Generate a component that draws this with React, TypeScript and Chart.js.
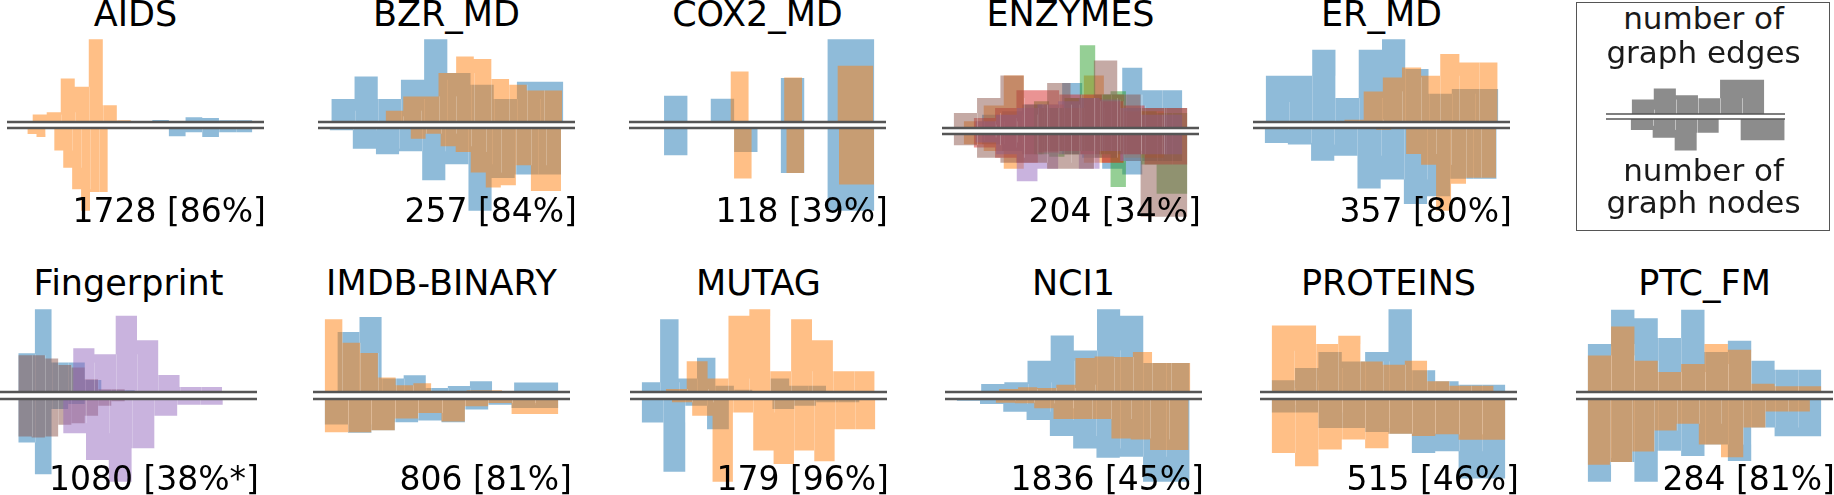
import React, { useEffect, useRef } from "react";
import { Chart, registerables } from "chart.js";

Chart.register(...registerables);

// ---------------- data ----------------
// Each histogram: bins = [first bin edge, bin width], counts = bar heights.
// Top halves = number of graph edges, bottom halves = number of graph nodes.

// AIDS
const aidsEdgesBlueBins = [455, 50];
const aidsEdgesBlue = [4, 6, 3, 14, 12, 5];
const aidsEdgesOrangeBins = [55, 42];
const aidsEdgesOrange = [5, 0, 22, 29, 130, 105, 247, 50, 5, 0];
const aidsNodesBlueBins = [455, 50];
const aidsNodesBlue = [8, 3, 25, 13, 27, 13];
const aidsNodesOrangeBins = [55, 26.7];
const aidsNodesOrange = [8, 0, 18, 27, 0, 68, 120, 185, 250, 193];

// BZR_MD
const bzrEdgesBlueBins = [80, 69.7];
const bzrEdgesBlue = [34, 69, 137, 69, 127, 249, 147, 112, 69, 121];
const bzrEdgesOrangeBins = [243, 53];
const bzrEdgesOrange = [17, 34, 77, 77, 147, 197, 189, 129, 112, 95];
const bzrNodesBlueBins = [75, 69.5];
const bzrNodesBlue = [25, 7, 62, 79, 70, 157, 109, 249, 150, 140];
const bzrNodesOrangeBins = [318, 45.2];
const bzrNodesOrange = [17, 32, 17, 55, 72, 134, 179, 172, 112, 189];

// COX2_MD
const coxEdgesBlueBins = [95, 70];
const coxEdgesBlue = [7, 0, 79, 0, 70, 0, 0, 132, 0, 249];
const coxEdgesOrangeBins = [258, 53.4];
const coxEdgesOrange = [54, 0, 0, 152, 0, 0, 134, 0, 0, 169];
const coxNodesBlueBins = [95, 70];
const coxNodesBlue = [10, 0, 82, 0, 0, 72, 0, 135, 0, 249];
const coxNodesOrangeBins = [270, 52.4];
const coxNodesOrange = [55, 0, 0, 152, 0, 0, 135, 0, 0, 170];

// ENZYMES (six classes)
const enzEdgesBlueBins = [200, 60];
const enzEdgesBlue = [20, 40, 50, 70, 60, 135, 90, 100, 180, 113];
const enzEdgesOrangeBins = [145, 60];
const enzEdgesOrange = [20, 20, 67, 157, 60, 70, 60, 157, 100, 50];
const enzEdgesGreenBins = [355, 46];
const enzEdgesGreen = [180, 80, 60, 90, 248, 100, 110, 60, 50, 45];
const enzEdgesRedBins = [175, 64];
const enzEdgesRed = [20, 30, 60, 113, 113, 100, 100, 80, 67, 60];
const enzEdgesPurpleBins = [180, 62];
const enzEdgesPurple = [10, 20, 40, 60, 70, 80, 90, 85, 60, 40];
const enzEdgesBrownBins = [115, 70];
const enzEdgesBrown = [45, 45, 90, 157, 70, 135, 90, 202, 100, 60];
const enzNodesBlueBins = [200, 60];
const enzNodesBlue = [20, 30, 50, 60, 50, 60, 70, 103, 120, 80];
const enzNodesOrangeBins = [145, 60];
const enzNodesOrange = [20, 30, 50, 103, 60, 50, 60, 85, 85, 70];
const enzNodesGreenBins = [355, 46];
const enzNodesGreen = [60, 60, 67, 60, 50, 60, 157, 80, 90, 177];
const enzNodesRedBins = [175, 64];
const enzNodesRed = [10, 40, 70, 85, 55, 50, 60, 85, 60, 90];
const enzNodesPurpleBins = [180, 62];
const enzNodesPurple = [10, 25, 60, 140, 103, 60, 103, 50, 80, 60];
const enzNodesBrownBins = [115, 70];
const enzNodesBrown = [33, 33, 70, 85, 85, 103, 103, 70, 60, 245];

// ER_MD
const erEdgesBlueBins = [138, 69.9];
const erEdgesBlue = [60, 139, 139, 217, 72, 217, 249, 159, 85, 99];
const erEdgesOrangeBins = [260, 57.5];
const erEdgesOrange = [7, 0, 0, 7, 92, 134, 164, 139, 204, 179];
const erNodesBlueBins = [135, 69.7];
const erNodesBlue = [5, 44, 49, 97, 82, 179, 152, 225, 202, 150];
const erNodesOrangeBins = [380, 45];
const erNodesOrange = [5, 0, 0, 5, 0, 77, 109, 245, 165, 147];

// Fingerprint
const fpEdgesBlueBins = [55, 50];
const fpEdgesBlue = [113, 116, 248, 88, 88, 36, 5, 5, 0, 0];
const fpEdgesBrownBins = [55, 40];
const fpEdgesBrown = [113, 110, 110, 100, 81, 73, 38, 8, 8, 0];
const fpEdgesPurpleBins = [220, 64];
const fpEdgesPurple = [88, 131, 113, 228, 155, 51, 15];
const fpNodesBlueBins = [55, 50];
const fpNodesBlue = [224, 130, 224, 30, 15, 0, 0, 0, 0, 0];
const fpNodesBrownBins = [55, 40];
const fpNodesBrown = [112, 112, 115, 112, 77, 72, 50, 20, 7, 0];
const fpNodesPurpleBins = [190, 68.6];
const fpNodesPurple = [72, 102, 182, 247, 147, 50, 17];
const fpAxisLimits = [0, 773];

// IMDB-BINARY
const imdbEdgesBlueBins = [108, 66];
const imdbEdgesBlue = [246, 178, 223, 40, 50, 12, 18, 32, 0, 28];
const imdbEdgesOrangeBins = [70, 53];
const imdbEdgesOrange = [230, 216, 146, 116, 43, 20, 26, 3, 0, 5];
const imdbNodesBlueBins = [70, 69.8];
const imdbNodesBlue = [250, 77, 102, 94, 70, 65, 70, 32, 17, 27];
const imdbNodesOrangeBins = [70, 69.8];
const imdbNodesOrange = [250, 100, 100, 94, 59, 42, 68, 22, 12, 45];

// MUTAG
const mutagEdgesBlueBins = [100, 55];
const mutagEdgesBlue = [165, 29, 217, 40, 102, 19, 7, 0, 40, 19];
const mutagEdgesOrangeBins = [172, 62.3];
const mutagEdgesOrange = [82, 9, 92, 40, 227, 247, 62, 217, 154, 62];
const mutagNodesBlueBins = [100, 65];
const mutagNodesBlue = [163, 70, 216, 20, 90, 0, 0, 30, 20, 10];
const mutagNodesOrangeBins = [190, 60.7];
const mutagNodesOrange = [90, 10, 50, 246, 40, 153, 193, 153, 185, 90];

// NCI1
const nciEdgesBlueBins = [132, 69.6];
const nciEdgesBlue = [0, 3, 24, 29, 94, 170, 125, 249, 229, 87];
const nciEdgesOrangeBins = [255, 57.5];
const nciEdgesOrange = [3, 9, 14, 12, 22, 102, 107, 105, 120, 87];
const nciNodesBlueBins = [128, 70];
const nciNodesBlue = [0, 5, 15, 38, 63, 111, 148, 176, 173, 248];
const nciNodesOrangeBins = [245, 58];
const nciNodesOrange = [5, 11, 13, 28, 60, 60, 60, 118, 121, 153];

// PROTEINS
const protEdgesBlueBins = [158, 70];
const protEdgesBlue = [12, 35, 72, 120, 92, 120, 249, 65, 32, 22];
const protEdgesOrangeBins = [158, 66.5];
const protEdgesOrange = [124, 200, 200, 144, 169, 92, 82, 94, 32, 19];
const protNodesBlueBins = [158, 70];
const protNodesBlue = [18, 40, 40, 86, 86, 98, 103, 160, 155, 236];
const protNodesOrangeBins = [158, 70];
const protNodesOrange = [246, 160, 200, 150, 120, 146, 103, 110, 105, 121];

// PTC_FM
const ptcEdgesBlueBins = [175, 69.7];
const ptcEdgesBlue = [137, 144, 247, 222, 162, 247, 120, 154, 94, 67];
const ptcEdgesOrangeBins = [175, 69.7];
const ptcEdgesOrange = [249, 110, 197, 94, 60, 84, 144, 127, 25, 17];
const ptcNodesBlueBins = [175, 69.7];
const ptcNodesBlue = [155, 218, 166, 218, 136, 150, 120, 163, 75, 98];
const ptcNodesOrangeBins = [175, 66.3];
const ptcNodesOrange = [181, 173, 166, 138, 83, 65, 120, 153, 75, 33];

// legend example
const legendEdgesBins = [305, 66.3];
const legendEdges = [13, 43, 76, 56, 47, 102];
const legendNodesBins = [302, 66];
const legendNodes = [20, 32, 55, 92, 40, 0, 62];
const legendAxisLimits = [228, 765];

const titles = ["AIDS", "BZR_MD", "COX2_MD", "ENZYMES", "ER_MD", "Fingerprint", "IMDB-BINARY", "MUTAG", "NCI1", "PROTEINS", "PTC_FM"];
const notes = ["1728 [86%]", "257 [84%]", "118 [39%]", "204 [34%]", "357 [80%]", "1080 [38%*]", "806 [81%]", "179 [96%]", "1836 [45%]", "515 [46%]", "284 [81%]"];
const legendLines = ["number of", "graph edges", "number of", "graph nodes"];

// ---------------- styles ----------------
const FILL: Record<string, string> = {
  blue: "rgba(31,119,180,0.5)",
  orange: "rgba(255,127,14,0.5)",
  green: "rgba(44,160,44,0.5)",
  red: "rgba(214,39,40,0.5)",
  purple: "rgba(148,103,189,0.5)",
  brown: "rgba(140,86,75,0.5)",
  gray: "rgb(140,140,140)",
};
const FONT = "'DejaVu Sans', 'Liberation Sans', sans-serif";

type Hist = { color: string; bins: number[]; counts: number[] };
const h = (color: string, bins: number[], counts: number[]): Hist => ({ color, bins, counts });

type PanelSpec = { title: string; note: string; edges: Hist[]; nodes: Hist[]; xLim?: number[] };

const PANELS: PanelSpec[] = [
  { title: titles[0], note: notes[0],
    edges: [h("blue", aidsEdgesBlueBins, aidsEdgesBlue), h("orange", aidsEdgesOrangeBins, aidsEdgesOrange)],
    nodes: [h("blue", aidsNodesBlueBins, aidsNodesBlue), h("orange", aidsNodesOrangeBins, aidsNodesOrange)] },
  { title: titles[1], note: notes[1],
    edges: [h("blue", bzrEdgesBlueBins, bzrEdgesBlue), h("orange", bzrEdgesOrangeBins, bzrEdgesOrange)],
    nodes: [h("blue", bzrNodesBlueBins, bzrNodesBlue), h("orange", bzrNodesOrangeBins, bzrNodesOrange)] },
  { title: titles[2], note: notes[2],
    edges: [h("blue", coxEdgesBlueBins, coxEdgesBlue), h("orange", coxEdgesOrangeBins, coxEdgesOrange)],
    nodes: [h("blue", coxNodesBlueBins, coxNodesBlue), h("orange", coxNodesOrangeBins, coxNodesOrange)] },
  { title: titles[3], note: notes[3],
    edges: [h("blue", enzEdgesBlueBins, enzEdgesBlue), h("orange", enzEdgesOrangeBins, enzEdgesOrange),
      h("green", enzEdgesGreenBins, enzEdgesGreen), h("red", enzEdgesRedBins, enzEdgesRed),
      h("purple", enzEdgesPurpleBins, enzEdgesPurple), h("brown", enzEdgesBrownBins, enzEdgesBrown)],
    nodes: [h("blue", enzNodesBlueBins, enzNodesBlue), h("orange", enzNodesOrangeBins, enzNodesOrange),
      h("green", enzNodesGreenBins, enzNodesGreen), h("red", enzNodesRedBins, enzNodesRed),
      h("purple", enzNodesPurpleBins, enzNodesPurple), h("brown", enzNodesBrownBins, enzNodesBrown)] },
  { title: titles[4], note: notes[4],
    edges: [h("blue", erEdgesBlueBins, erEdgesBlue), h("orange", erEdgesOrangeBins, erEdgesOrange)],
    nodes: [h("blue", erNodesBlueBins, erNodesBlue), h("orange", erNodesOrangeBins, erNodesOrange)] },
  { title: titles[5], note: notes[5], xLim: fpAxisLimits,
    edges: [h("blue", fpEdgesBlueBins, fpEdgesBlue), h("brown", fpEdgesBrownBins, fpEdgesBrown), h("purple", fpEdgesPurpleBins, fpEdgesPurple)],
    nodes: [h("blue", fpNodesBlueBins, fpNodesBlue), h("brown", fpNodesBrownBins, fpNodesBrown), h("purple", fpNodesPurpleBins, fpNodesPurple)] },
  { title: titles[6], note: notes[6],
    edges: [h("blue", imdbEdgesBlueBins, imdbEdgesBlue), h("orange", imdbEdgesOrangeBins, imdbEdgesOrange)],
    nodes: [h("blue", imdbNodesBlueBins, imdbNodesBlue), h("orange", imdbNodesOrangeBins, imdbNodesOrange)] },
  { title: titles[7], note: notes[7],
    edges: [h("blue", mutagEdgesBlueBins, mutagEdgesBlue), h("orange", mutagEdgesOrangeBins, mutagEdgesOrange)],
    nodes: [h("blue", mutagNodesBlueBins, mutagNodesBlue), h("orange", mutagNodesOrangeBins, mutagNodesOrange)] },
  { title: titles[8], note: notes[8],
    edges: [h("blue", nciEdgesBlueBins, nciEdgesBlue), h("orange", nciEdgesOrangeBins, nciEdgesOrange)],
    nodes: [h("blue", nciNodesBlueBins, nciNodesBlue), h("orange", nciNodesOrangeBins, nciNodesOrange)] },
  { title: titles[9], note: notes[9],
    edges: [h("blue", protEdgesBlueBins, protEdgesBlue), h("orange", protEdgesOrangeBins, protEdgesOrange)],
    nodes: [h("blue", protNodesBlueBins, protNodesBlue), h("orange", protNodesOrangeBins, protNodesOrange)] },
  { title: titles[10], note: notes[10],
    edges: [h("blue", ptcEdgesBlueBins, ptcEdgesBlue), h("orange", ptcEdgesOrangeBins, ptcEdgesOrange)],
    nodes: [h("blue", ptcNodesBlueBins, ptcNodesBlue), h("orange", ptcNodesOrangeBins, ptcNodesOrange)] },
];

// ---------------- layout ----------------
const AX_W = 257;
const ROW_GEOM = [
  { titleBase: 27, top: 35, line1: 122, line2: 128, bottom: 215, noteBase: 221.7 },
  { titleBase: 295.7, top: 305, line1: 392, line2: 399, bottom: 486, noteBase: 489.5 },
];
const PANEL_POS = [
  { row: 0, left: 7, dy: 0 }, { row: 0, left: 318, dy: 0 }, { row: 0, left: 629, dy: 0 },
  { row: 0, left: 942, dy: 6 }, { row: 0, left: 1253, dy: 0 },
  { row: 1, left: 0, dy: 0 }, { row: 1, left: 313, dy: 0 }, { row: 1, left: 630, dy: 0 },
  { row: 1, left: 945, dy: 0 }, { row: 1, left: 1260, dy: 0 }, { row: 1, left: 1576, dy: 0 },
];
const PAD = 4;

function steps(s: Hist) {
  const [x0, w] = s.bins;
  const pts = s.counts.map((c, i) => ({ x: x0 + i * w, y: c }));
  pts.push({ x: x0 + s.counts.length * w, y: s.counts[s.counts.length - 1] });
  return pts;
}

function xRange(all: Hist[], lim?: number[]) {
  if (lim) return lim;
  let lo = Infinity, hi = -Infinity;
  for (const s of all) {
    lo = Math.min(lo, s.bins[0]);
    hi = Math.max(hi, s.bins[0] + s.counts.length * s.bins[1]);
  }
  const m = (hi - lo) * 0.05;
  return [lo - m, hi + m];
}

function Half(props: {
  series: Hist[]; flip: boolean; xLim: number[]; left: number; top: number; width: number; height: number;
  lineColor: string; lineWidth: number; seam: string;
}) {
  const { series, flip, xLim, left, top, width, height, lineColor, lineWidth, seam } = props;
  const ref = useRef<HTMLCanvasElement | null>(null);
  useEffect(() => {
    if (!ref.current) return;
    const yMax = Math.max(...series.flatMap((s) => s.counts)) * 1.05;
    const decor = {
      id: "decor",
      // faint seams between adjacent bars of the same histogram
      afterDatasetDraw(chart: any, args: any) {
        const s = series[args.index];
        if (!s) return;
        const { ctx, chartArea } = chart;
        const xs = chart.scales.x, ys = chart.scales.y;
        const [x0, w] = s.bins;
        ctx.save();
        ctx.beginPath();
        ctx.rect(chartArea.left, chartArea.top, chartArea.right - chartArea.left, chartArea.bottom - chartArea.top);
        ctx.clip();
        ctx.strokeStyle = seam;
        ctx.lineWidth = 1;
        ctx.beginPath();
        for (let i = 1; i < s.counts.length; i++) {
          const hv = Math.min(s.counts[i - 1], s.counts[i]);
          if (hv <= 0) continue;
          const px = Math.round(xs.getPixelForValue(x0 + i * w)) + 0.5;
          ctx.moveTo(px, ys.getPixelForValue(0));
          ctx.lineTo(px, ys.getPixelForValue(hv));
        }
        ctx.stroke();
        ctx.restore();
      },
      afterDatasetsDraw(chart: any) {
        const { ctx, chartArea } = chart;
        const y = chart.scales.y.getPixelForValue(0);
        ctx.save();
        ctx.strokeStyle = lineColor;
        ctx.lineWidth = lineWidth;
        ctx.beginPath();
        ctx.moveTo(chartArea.left, y);
        ctx.lineTo(chartArea.right, y);
        ctx.stroke();
        ctx.restore();
      },
    };
    const n = series.length;
    const chart = new Chart(ref.current, {
      type: "line",
      data: {
        // first class is painted first (underneath), like the original figure
        datasets: series.map((s, i) => ({
          data: steps(s),
          order: n - i,
          stepped: "after" as const,
          fill: "origin",
          backgroundColor: FILL[s.color],
          borderColor: "rgba(0,0,0,0)",
          borderWidth: 0,
          pointRadius: 0,
          pointHoverRadius: 0,
        })),
      },
      options: {
        responsive: false,
        animation: false,
        events: [],
        layout: { padding: flip ? { top: PAD, left: 0, right: 0, bottom: 0 } : { bottom: PAD, left: 0, right: 0, top: 0 } },
        plugins: { legend: { display: false }, tooltip: { enabled: false }, title: { display: false } },
        scales: {
          x: { type: "linear", display: false, min: xLim[0], max: xLim[1], bounds: "data" },
          y: { type: "linear", display: false, min: 0, max: yMax, reverse: flip, bounds: "data" },
        },
      } as any,
      plugins: [decor],
    });
    return () => chart.destroy();
  }, []);
  return (
    <canvas
      ref={ref}
      width={width}
      height={height}
      style={{ position: "absolute", left, top, width, height, display: "block" }}
    />
  );
}

function Label(props: { x: number; base: number; size: number; align: "center" | "right"; color?: string; text: string }) {
  const { x, base, size, align, color, text } = props;
  return (
    <div
      style={{
        position: "absolute",
        left: x,
        top: base - 0.846 * size,
        transform: align === "center" ? "translateX(-50%)" : "translateX(-100%)",
        fontFamily: FONT,
        fontSize: size,
        lineHeight: `${size}px`,
        whiteSpace: "nowrap",
        color: color || "#000",
        zIndex: 2,
      }}
    >
      {text}
    </div>
  );
}

function Panel({ spec, pos }: { spec: PanelSpec; pos: { row: number; left: number; dy: number } }) {
  const g = ROW_GEOM[pos.row];
  const xLim = xRange([...spec.edges, ...spec.nodes], spec.xLim);
  const top = g.top + pos.dy, line1 = g.line1 + pos.dy, line2 = g.line2 + pos.dy, bottom = g.bottom + pos.dy;
  return (
    <>
      <Label x={pos.left + AX_W / 2} base={g.titleBase} size={35} align="center" text={spec.title} />
      <Half series={spec.edges} flip={false} xLim={xLim} left={pos.left} top={top} width={AX_W}
        height={line1 - top + PAD} lineColor="#555" lineWidth={2.6} seam="rgba(255,255,255,0.22)" />
      <Half series={spec.nodes} flip={true} xLim={xLim} left={pos.left} top={line2 - PAD} width={AX_W}
        height={bottom - line2 + PAD} lineColor="#555" lineWidth={2.6} seam="rgba(255,255,255,0.22)" />
      <Label x={pos.left + AX_W + 2} base={g.noteBase} size={33} align="right" text={spec.note} />
    </>
  );
}

function LegendBox() {
  const cx = 1703.5;
  const edges = [h("gray", legendEdgesBins, legendEdges)];
  const nodes = [h("gray", legendNodesBins, legendNodes)];
  return (
    <>
      <div style={{ position: "absolute", left: 1576, top: 2, width: 254, height: 229, border: "1.5px solid #555", boxSizing: "border-box" }} />
      <Label x={cx} base={29.3} size={31} align="center" color="#1a1a1a" text={legendLines[0]} />
      <Label x={cx} base={63.3} size={31} align="center" color="#1a1a1a" text={legendLines[1]} />
      <Half series={edges} flip={false} xLim={legendAxisLimits} left={1606} top={78} width={179}
        height={114 - 78 + PAD} lineColor="#555" lineWidth={1.7} seam="rgba(255,255,255,0.45)" />
      <Half series={nodes} flip={true} xLim={legendAxisLimits} left={1606} top={119 - PAD} width={179}
        height={152 - 119 + PAD} lineColor="#555" lineWidth={1.7} seam="rgba(255,255,255,0.45)" />
      <Label x={cx} base={181} size={31} align="center" color="#1a1a1a" text={legendLines[2]} />
      <Label x={cx} base={213.3} size={31} align="center" color="#1a1a1a" text={legendLines[3]} />
    </>
  );
}

export default function App() {
  return (
    <div style={{ position: "absolute", left: 0, top: 0, width: 1834, height: 495, background: "#fff", overflow: "hidden" }}>
      {PANELS.map((p, i) => (
        <Panel key={p.title} spec={p} pos={PANEL_POS[i]} />
      ))}
      <LegendBox />
    </div>
  );
}
